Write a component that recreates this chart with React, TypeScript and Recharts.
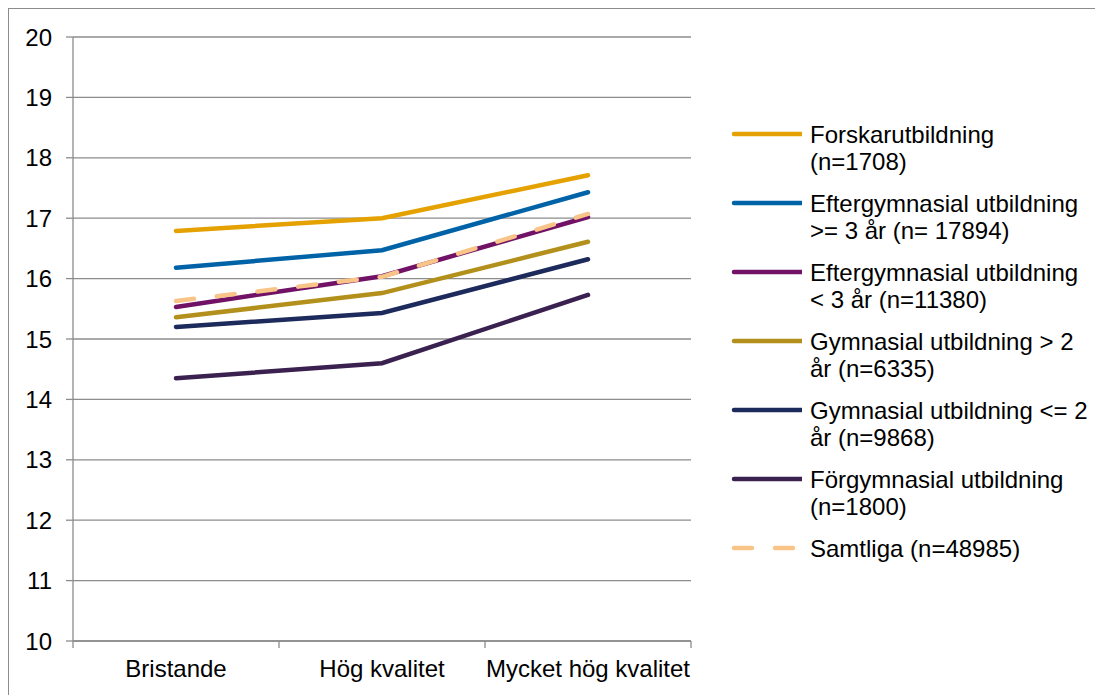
import React from 'react';
import { LineChart, Line, XAxis, YAxis, CartesianGrid } from 'recharts';

const categories = ['Bristande', 'Hög kvalitet', 'Mycket hög kvalitet'];

const forskar = [16.79, 17.0, 17.71];
const efterMin3 = [16.18, 16.47, 17.43];
const efterUnder3 = [15.53, 16.04, 17.02];
const gymOver2 = [15.36, 15.76, 16.61];
const gymMax2 = [15.2, 15.43, 16.32];
const forgym = [14.35, 14.6, 15.73];
const samtliga = [15.63, 16.03, 17.07];

const yTicks = [10, 11, 12, 13, 14, 15, 16, 17, 18, 19, 20];
// category boundaries for the x tick marks
const xBounds = [0, 1, 2, 3];

const series = [
  { key: 'forskar', values: forskar, color: '#E4A100', name: ['Forskarutbildning', '(n=1708)'] },
  { key: 'efterMin3', values: efterMin3, color: '#0063A7', name: ['Eftergymnasial utbildning', '>= 3 år (n= 17894)'] },
  { key: 'efterUnder3', values: efterUnder3, color: '#721266', name: ['Eftergymnasial utbildning', '< 3 år (n=11380)'] },
  { key: 'gymOver2', values: gymOver2, color: '#B3901B', name: ['Gymnasial utbildning > 2', 'år (n=6335)'] },
  { key: 'gymMax2', values: gymMax2, color: '#1C2A5C', name: ['Gymnasial utbildning <= 2', 'år (n=9868)'] },
  { key: 'forgym', values: forgym, color: '#3A2150', name: ['Förgymnasial utbildning', '(n=1800)'] },
  { key: 'samtliga', values: samtliga, color: '#F8C488', name: ['Samtliga (n=48985)'], dashed: true },
];

const data = categories.map((cat, i) => {
  const row: Record<string, string | number> = { cat, x: i + 0.5 };
  series.forEach((s) => {
    row[s.key] = s.values[i];
  });
  return row;
});

const font = '"Liberation Sans", Arial, sans-serif';
const fontSize = 24;
const dash = '18 23';

// label sits in the middle of the category, half a band right of its left boundary
function CatTick(props: any) {
  const { x, y, index } = props;
  const label = categories[index];
  if (!label) return null;
  return (
    <text
      x={x + 103}
      y={y}
      dy="0.71em"
      textAnchor="middle"
      fill="#000"
      fontSize={fontSize}
      fontFamily={font}
    >
      {label}
    </text>
  );
}

function LegendBox() {
  return (
    <div
      style={{
        position: 'absolute',
        left: 715,
        top: 112,
        fontFamily: font,
        fontSize,
        color: '#000',
        lineHeight: '27px',
      }}
    >
      {series.map((s) => (
        <div key={s.key} style={{ display: 'flex', alignItems: 'flex-start', marginBottom: 15 }}>
          <svg width={78} height={27} style={{ flex: 'none' }}>
            <line
              x1={10}
              y1={13}
              x2={78}
              y2={13}
              stroke={s.color}
              strokeWidth={4.5}
              strokeLinecap="round"
              strokeDasharray={s.dashed ? dash : undefined}
            />
          </svg>
          <div style={{ marginLeft: 8, whiteSpace: 'nowrap' }}>
            {s.name.map((t, i) => (
              <div key={i}>{t}</div>
            ))}
          </div>
        </div>
      ))}
    </div>
  );
}

export default function App() {
  return (
    <div
      style={{
        position: 'relative',
        width: 1200,
        height: 700,
        borderTop: '1px solid #8c8c8c',
        borderLeft: '1px solid #8c8c8c',
        background: '#fff',
      }}
    >
      <LineChart
        width={1085}
        height={681}
        data={data}
        margin={{ top: 28, right: 403, left: 0, bottom: 0 }}
      >
        <CartesianGrid vertical={false} stroke="#8c8c8c" strokeWidth={1.3} />
        <XAxis
          dataKey="x"
          type="number"
          domain={[0, 3]}
          ticks={xBounds}
          interval={0}
          height={49}
          stroke="#8c8c8c"
          strokeWidth={1.3}
          tickSize={7}
          tickMargin={12}
          tick={<CatTick />}
        />
        <YAxis
          domain={[10, 20]}
          ticks={yTicks}
          width={64}
          stroke="#8c8c8c"
          strokeWidth={1.3}
          tickSize={7}
          tickMargin={14}
          tick={{ fill: '#000', fontSize, fontFamily: font }}
        />
        {series.map((s) => (
          <Line
            key={s.key}
            dataKey={s.key}
            type="linear"
            stroke={s.color}
            strokeWidth={4.5}
            strokeLinecap="round"
            strokeDasharray={s.dashed ? dash : undefined}
            dot={false}
            activeDot={false}
            isAnimationActive={false}
          />
        ))}
      </LineChart>
      <LegendBox />
    </div>
  );
}
